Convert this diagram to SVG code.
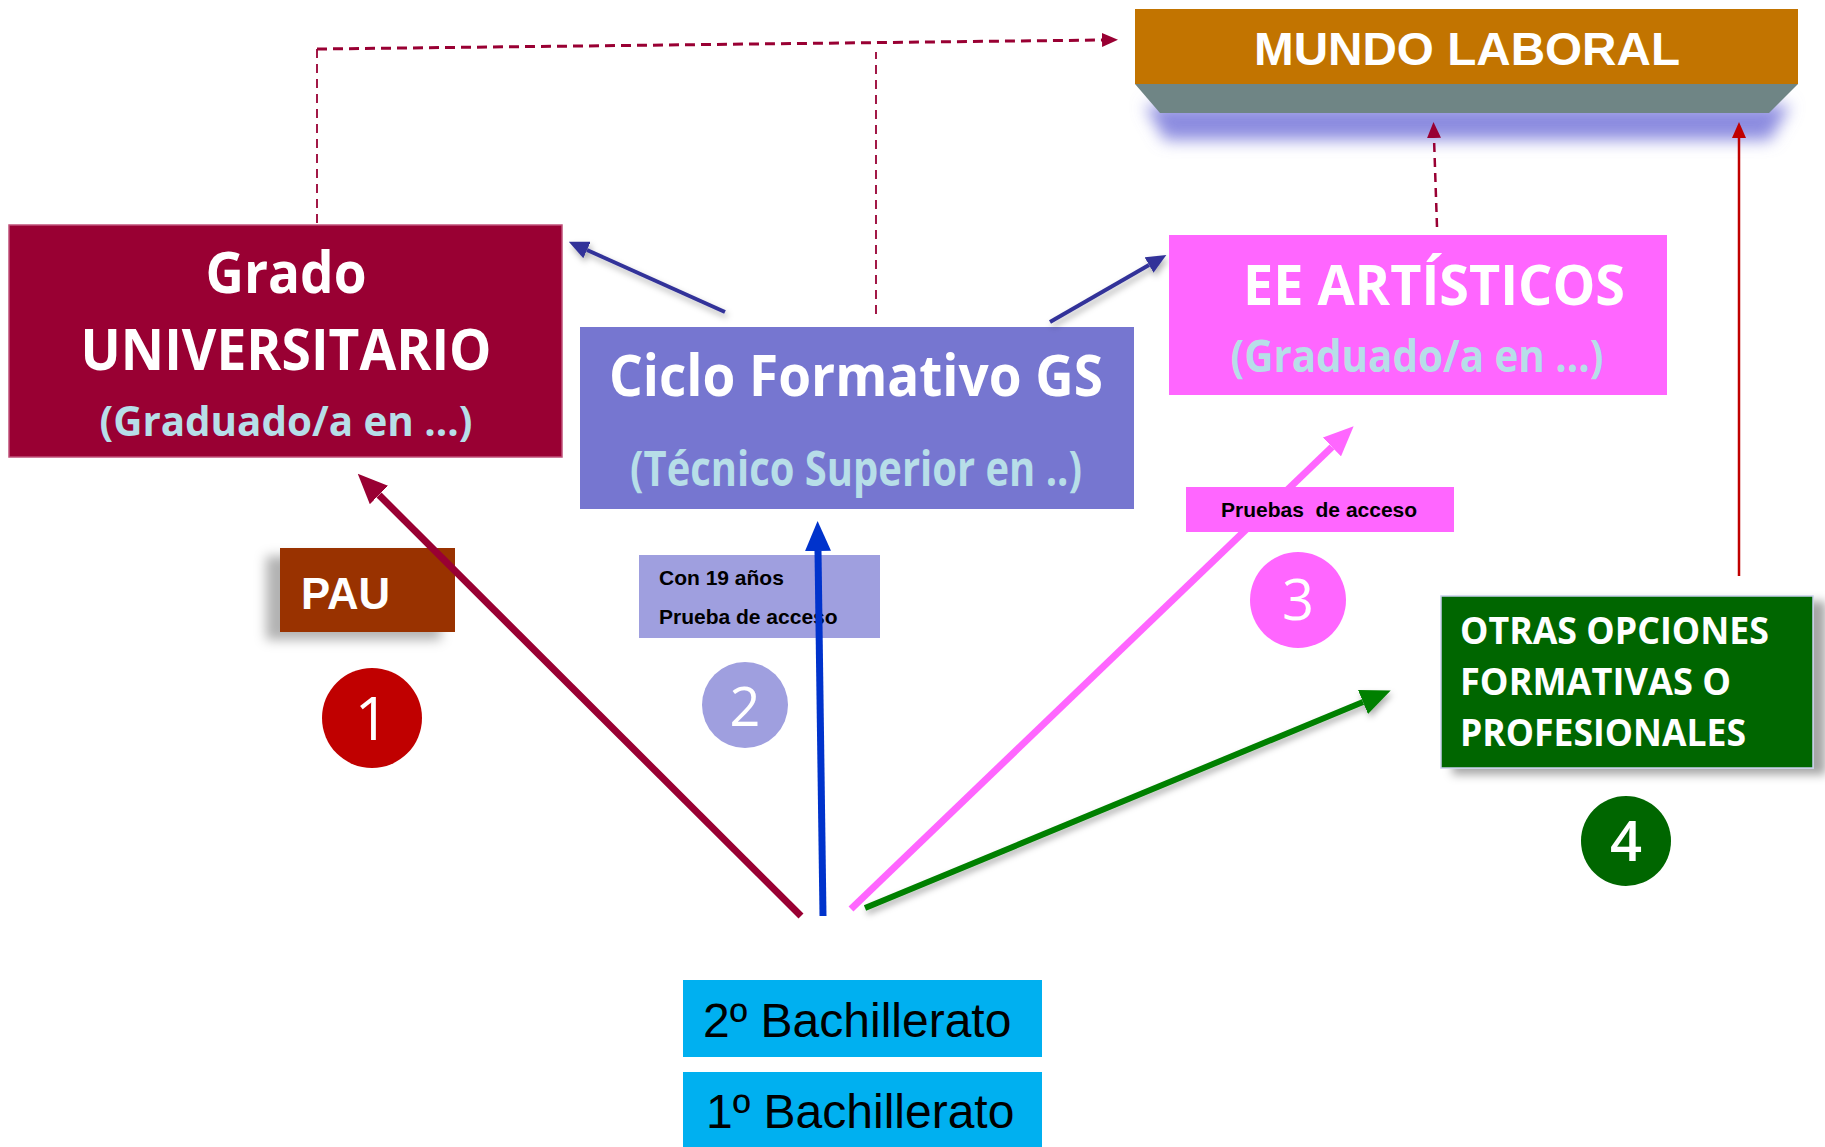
<svg xmlns="http://www.w3.org/2000/svg" width="1825" height="1147" viewBox="0 0 1825 1147">
<defs>
<style>
.cal{font-family:"Open Sans","Noto Sans","DejaVu Sans",sans-serif;font-weight:bold;}
.ari{font-family:"Liberation Sans",Arial,sans-serif;}
.w{fill:#ffffff;}
.lb{fill:#B7DEE8;}
.k{fill:#000000;}
.num{font-family:"Open Sans","Noto Sans",sans-serif;fill:#ffffff;text-anchor:middle;}
.thick{fill:none;stroke-width:7;}
.dash{fill:none;stroke:#990033;}
</style>
<marker id="m-red" markerUnits="userSpaceOnUse" markerWidth="30" markerHeight="26" refX="0" refY="13" orient="auto"><path d="M0,0 L30,13 L0,26 z" fill="#990033"/></marker>
<marker id="m-blue" markerUnits="userSpaceOnUse" markerWidth="30" markerHeight="26" refX="0" refY="13" orient="auto"><path d="M0,0 L30,13 L0,26 z" fill="#0033CC"/></marker>
<marker id="m-pink" markerUnits="userSpaceOnUse" markerWidth="30" markerHeight="26" refX="0" refY="13" orient="auto"><path d="M0,0 L30,13 L0,26 z" fill="#FF66FF"/></marker>
<marker id="m-green" markerUnits="userSpaceOnUse" markerWidth="30" markerHeight="26" refX="0" refY="13" orient="auto"><path d="M0,0 L30,13 L0,26 z" fill="#008000"/></marker>
<marker id="m-navy" markerUnits="userSpaceOnUse" markerWidth="20" markerHeight="18" refX="0" refY="9" orient="auto"><path d="M0,0 L20,9 L0,18 z" fill="#333399"/></marker>
<marker id="m-dash" markerUnits="userSpaceOnUse" markerWidth="16" markerHeight="14" refX="0" refY="7" orient="auto"><path d="M0,0 L16,7 L0,14 z" fill="#990033"/></marker>
<marker id="m-solid" markerUnits="userSpaceOnUse" markerWidth="16" markerHeight="14" refX="0" refY="7" orient="auto"><path d="M0,0 L16,7 L0,14 z" fill="#C00000"/></marker>
<filter id="glow" x="-10%" y="-60%" width="120%" height="220%"><feGaussianBlur stdDeviation="8"/></filter>
<filter id="sh-left" x="-30%" y="-30%" width="160%" height="160%"><feDropShadow dx="-14" dy="8" stdDeviation="6" flood-color="#000000" flood-opacity="0.3"/></filter>
<filter id="sh-right" x="-20%" y="-20%" width="140%" height="140%"><feDropShadow dx="12" dy="6" stdDeviation="5" flood-color="#000000" flood-opacity="0.35"/></filter>
<filter id="sh-soft" x="-20%" y="-20%" width="140%" height="140%"><feDropShadow dx="2" dy="4" stdDeviation="3" flood-color="#000000" flood-opacity="0.3"/></filter>
</defs>
<rect width="1825" height="1147" fill="#ffffff"/>

<g id="mundo-laboral">
<path d="M1145,105 L1790,105 L1770,140 L1165,140 z" fill="#8C8CE0" filter="url(#glow)"/>
<path d="M1135,84 L1798,84 L1769,113 L1160,113 z" fill="#6F8585"/>
<rect x="1135" y="9" width="663" height="75" fill="#C27400"/>
<text class="ari w" x="1467" y="65" font-size="47" font-weight="bold" text-anchor="middle" textLength="426" lengthAdjust="spacingAndGlyphs">MUNDO LABORAL</text>
</g>

<g id="grado-universitario">
<rect x="9" y="225" width="553" height="232" fill="#990033" stroke="#C0507A" stroke-width="1.5"/>
<text class="cal w" x="286" y="293" font-size="58" text-anchor="middle" textLength="161" lengthAdjust="spacingAndGlyphs">Grado</text>
<text class="cal w" x="286" y="370" font-size="58" text-anchor="middle" textLength="411" lengthAdjust="spacingAndGlyphs">UNIVERSITARIO</text>
<text class="cal lb" x="286" y="436" font-size="42" text-anchor="middle" textLength="373" lengthAdjust="spacingAndGlyphs">(Graduado/a en …)</text>
</g>

<g id="ciclo-formativo">
<rect x="580" y="327" width="554" height="182" fill="#7676D0"/>
<text class="cal w" x="856" y="396" font-size="58" text-anchor="middle" textLength="494" lengthAdjust="spacingAndGlyphs">Ciclo Formativo GS</text>
<text class="cal lb" x="856" y="486" font-size="49" text-anchor="middle" textLength="452" lengthAdjust="spacingAndGlyphs">(Técnico Superior en ..)</text>
</g>

<g id="ee-artisticos">
<rect x="1169" y="235" width="498" height="160" fill="#FF66FF"/>
<text class="cal w" x="1434" y="305" font-size="56" text-anchor="middle" textLength="382" lengthAdjust="spacingAndGlyphs">EE ARTÍSTICOS</text>
<text class="cal lb" x="1417" y="372" font-size="44" text-anchor="middle" textLength="373" lengthAdjust="spacingAndGlyphs">(Graduado/a en …)</text>
</g>

<g id="otras-opciones">
<rect x="1441" y="596" width="372" height="172" fill="#006600" stroke="#C8D0EC" stroke-width="1.5" filter="url(#sh-right)"/>
<text class="cal w" x="1460" y="644" font-size="38" textLength="309" lengthAdjust="spacingAndGlyphs">OTRAS OPCIONES</text>
<text class="cal w" x="1460" y="695" font-size="38" textLength="271" lengthAdjust="spacingAndGlyphs">FORMATIVAS O</text>
<text class="cal w" x="1460" y="746" font-size="38" textLength="286" lengthAdjust="spacingAndGlyphs">PROFESIONALES</text>
</g>

<g id="pau">
<rect x="280" y="548" width="175" height="84" fill="#993300" filter="url(#sh-left)"/>
<text class="ari w" x="301" y="609" font-size="44" font-weight="bold" textLength="89" lengthAdjust="spacingAndGlyphs">PAU</text>
</g>

<g id="con-19">
<rect x="639" y="555" width="241" height="83" fill="#9F9FDF"/>
<text class="ari k" x="659" y="585" font-size="21" font-weight="bold">Con 19 años</text>
<text class="ari k" x="659" y="624" font-size="21" font-weight="bold">Prueba de acceso</text>
</g>

<g id="circulo-1">
<circle cx="372" cy="718" r="50" fill="#C00000"/>
<text class="num" x="372" y="740" font-size="60">1</text>
</g>
<g id="circulo-2">
<circle cx="745" cy="705" r="43" fill="#9F9FDF"/>
<text class="num" x="745" y="726" font-size="54">2</text>
</g>
<g id="circulo-3">
<circle cx="1298" cy="600" r="48" fill="#FF66FF"/>
<text class="num" x="1298" y="620" font-size="56">3</text>
</g>
<g id="circulo-4">
<circle cx="1626" cy="841" r="45" fill="#006600"/>
<text class="num" x="1626" y="861" font-size="56" font-weight="600">4</text>
</g>

<g id="bachillerato-2">
<rect x="683" y="980" width="359" height="77" fill="#00B0F0"/>
<text class="ari k" x="703" y="1037" font-size="48">2º Bachillerato</text>
</g>
<g id="bachillerato-1">
<rect x="683" y="1072" width="359" height="75" fill="#00B0F0"/>
<text class="ari k" x="706" y="1128" font-size="48">1º Bachillerato</text>
</g>

<g id="connectors">
<path class="dash" d="M317,223 V49" stroke-width="1.8" stroke-dasharray="9,6"/>
<path class="dash" d="M317,49 L1102,40" stroke-width="3" stroke-dasharray="10,6" marker-end="url(#m-dash)"/>
<path class="dash" d="M876,314 V52" stroke-width="1.8" stroke-dasharray="9,6"/>
<path class="dash" d="M1437,227 L1434,138" stroke-width="2.5" stroke-dasharray="9,6" marker-end="url(#m-dash)"/>
<path d="M1739,576 V138" fill="none" stroke="#C00000" stroke-width="2.5" marker-end="url(#m-solid)"/>
<path d="M725,312 L587,250" fill="none" stroke="#333399" stroke-width="4" marker-end="url(#m-navy)" filter="url(#sh-soft)"/>
<path d="M1050,322 L1149,265" fill="none" stroke="#333399" stroke-width="4" marker-end="url(#m-navy)" filter="url(#sh-soft)"/>
<path class="thick" d="M801,916 L379,495" stroke="#990033" marker-end="url(#m-red)"/>
<path class="thick" d="M823,916 L818,551" stroke="#0033CC" marker-end="url(#m-blue)"/>
<path class="thick" d="M851,909 L1332,447" stroke="#FF66FF" marker-end="url(#m-pink)"/>
<path d="M865,908 L1363,702" fill="none" stroke="#008000" stroke-width="6" marker-end="url(#m-green)" filter="url(#sh-soft)"/>
</g>

<g id="pruebas-acceso">
<rect x="1186" y="487" width="268" height="45" fill="#FF66FF"/>
<text class="ari k" x="1221" y="517" font-size="21" font-weight="bold" style="white-space:pre">Pruebas  de acceso</text>
</g>
</svg>
